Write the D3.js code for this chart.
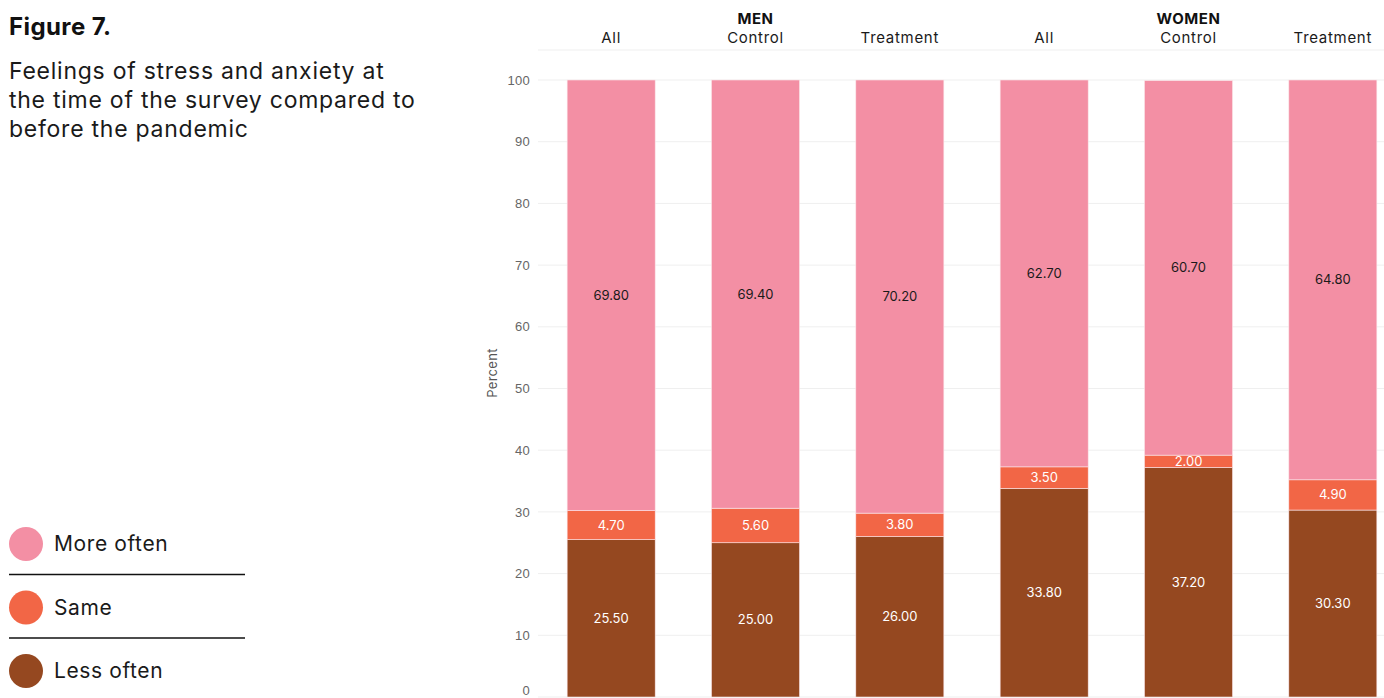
<!DOCTYPE html>
<html><head><meta charset="utf-8">
<script src="https://cdn.jsdelivr.net/npm/d3@7"></script>
<style>body{margin:0;background:#fff;} svg{display:block;font-family:Inter, "Open Sans", sans-serif;}</style>
</head><body><svg id="c" width="1384" height="698"></svg>
<script>
const groups = ["MEN","MEN","MEN","WOMEN","WOMEN","WOMEN"];
const categories = ["All","Control","Treatment","All","Control","Treatment"];
const lessOften = [25.5, 25.0, 26.0, 33.8, 37.2, 30.3];
const same = [4.7, 5.6, 3.8, 3.5, 2.0, 4.9];
const moreOften = [69.8, 69.4, 70.2, 62.7, 60.7, 64.8];
const seriesNames = ["Less often","Same","More often"];
const legendNames = ["More often","Same","Less often"];
const colors = {"More often":"#f38fa4","Same":"#f26646","Less often":"#954820"};
const labelColors = {"More often":"#1a1a1a","Same":"#ffffff","Less often":"#ffffff"};
const yTicks = [0,10,20,30,40,50,60,70,80,90,100];

const svg = d3.select("#c");
const ids = d3.range(categories.length);
const x = d3.scaleBand().domain(ids).range([539,1405]).paddingInner(0.39).paddingOuter(0.195);
const y = d3.scaleLinear().domain([0,100]).range([697,80]);

const rows = ids.map(i => ({id:i, "Less often":lessOften[i], "Same":same[i], "More often":moreOften[i]}));
const stacked = d3.stack().keys(seriesNames)(rows);

// gridlines
svg.append("g").selectAll("line").data(yTicks).join("line")
  .attr("x1",538).attr("x2",1384).attr("y1",d=>y(d)).attr("y2",d=>y(d))
  .attr("stroke","#efefef").attr("stroke-width",1);
// header line
svg.append("line").attr("x1",538).attr("x2",1384).attr("y1",50).attr("y2",50).attr("stroke","#efefef");

// y axis
const yAxis = svg.append("g").attr("transform","translate(538,0)")
  .call(d3.axisLeft(y).tickValues(yTicks).tickSize(0).tickPadding(8));
yAxis.select(".domain").remove();
yAxis.selectAll("text").attr("fill","#666").attr("font-size",13).attr("letter-spacing",0.3);
yAxis.selectAll(".tick").filter(d=>d===0).select("text").attr("dy","-0.2em");
svg.append("text").attr("transform","translate(497,373) rotate(-90)").attr("text-anchor","middle")
  .attr("font-size",13).attr("fill","#555").attr("letter-spacing",0.3).text("Percent");

// bars
const layer = svg.append("g").selectAll("g").data(stacked).join("g").attr("fill",d=>colors[d.key]);
layer.selectAll("rect").data(d=>d).join("rect")
  .attr("x",d=>x(d.data.id)).attr("width",x.bandwidth())
  .attr("y",d=>y(d[1])).attr("height",d=>y(d[0])-y(d[1]))
  .attr("stroke","#fbe6ea").attr("stroke-width",0.6);

// value labels
stacked.forEach(s=>{
  svg.append("g").selectAll("text").data(s).join("text")
    .attr("x",d=>x(d.data.id)+x.bandwidth()/2)
    .attr("y",d=>y((d[0]+d[1])/2))
    .attr("dy","0.35em").attr("text-anchor","middle")
    .attr("font-size",13).attr("fill",labelColors[s.key])
    .text(d=>(d[1]-d[0]).toFixed(2));
});

// x categories on top
svg.append("g").selectAll("text").data(ids).join("text")
  .attr("x",i=>x(i)+x.bandwidth()/2).attr("y",43).attr("text-anchor","middle")
  .attr("font-size",15).attr("letter-spacing",0.7).attr("fill","#1a1a1a").text(i=>categories[i]);
// group labels
const groupNames = Array.from(new Set(groups));
svg.append("g").selectAll("text").data(groupNames).join("text")
  .attr("x",g=>{const idx=ids.filter(i=>groups[i]===g); return d3.mean(idx,i=>x(i)+x.bandwidth()/2);})
  .attr("y",24).attr("text-anchor","middle").attr("font-size",15).attr("font-weight","bold")
  .attr("letter-spacing",0.5).attr("fill","#111").text(g=>g);

// title
svg.append("text").attr("x",9).attr("y",35).attr("font-size",24).attr("font-weight","bold")
  .attr("letter-spacing",0.4).attr("fill","#111").text("Figure 7.");
const sub = ["Feelings of stress and anxiety at","the time of the survey compared to","before the pandemic"];
svg.append("g").selectAll("text").data(sub).join("text")
  .attr("x",9).attr("y",(d,i)=>79+i*29).attr("font-size",23).attr("letter-spacing",0.75)
  .attr("fill","#1a1a1a").text(d=>d);

// legend
const lg = svg.append("g").selectAll("g").data(legendNames).join("g")
  .attr("transform",(d,i)=>`translate(0,${544+i*63.5})`);
lg.append("circle").attr("cx",26).attr("cy",0).attr("r",17).attr("fill",d=>colors[d]);
lg.append("text").attr("x",54).attr("y",0).attr("dy","0.35em").attr("font-size",21)
  .attr("letter-spacing",0.6).attr("fill","#1a1a1a").text(d=>d);
svg.append("g").selectAll("line").data([0,1]).join("line")
  .attr("x1",9).attr("x2",245).attr("y1",i=>574.5+i*63.5).attr("y2",i=>574.5+i*63.5)
  .attr("stroke","#111").attr("stroke-width",1.3);
</script></body></html>
